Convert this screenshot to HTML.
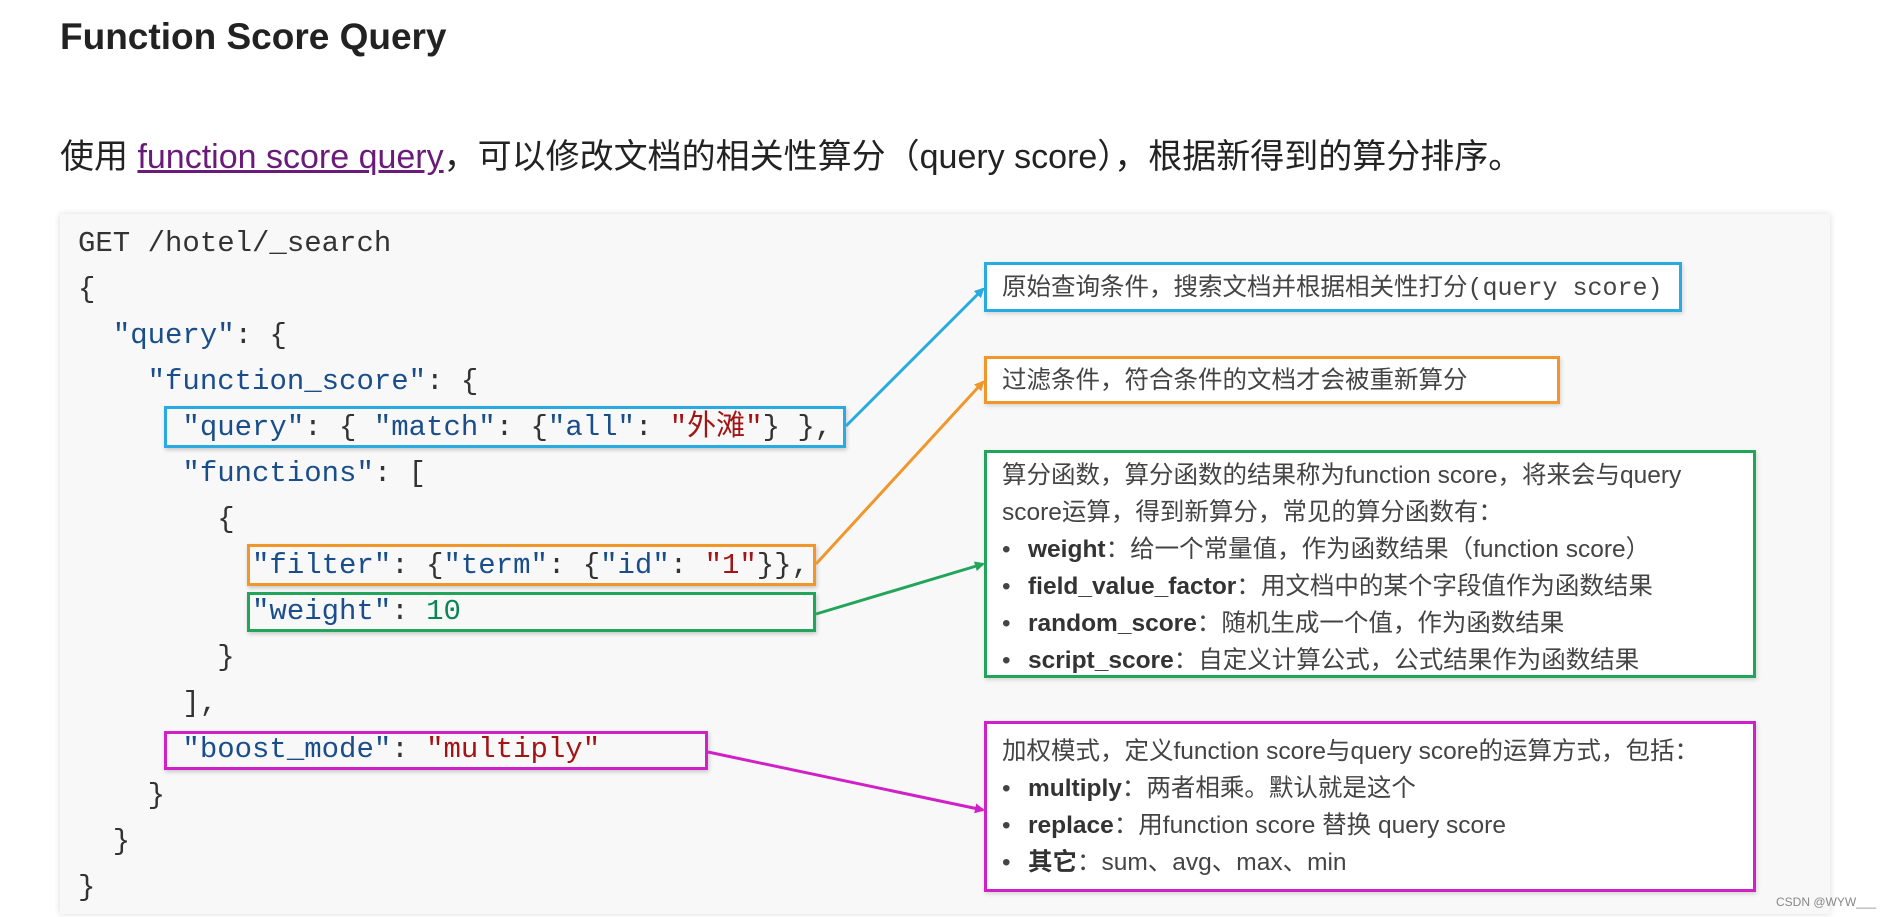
<!DOCTYPE html>
<html><head><meta charset="utf-8"><style>
body{margin:0;width:1881px;height:917px;background:#fff;position:relative;overflow:hidden;font-family:"Liberation Sans","Noto Sans CJK SC",sans-serif;color:#333}
.a{position:absolute;white-space:nowrap}
.code{position:absolute;left:60px;top:214px;width:1770px;height:700px;background:#f8f8f8;box-shadow:0 0 6px rgba(0,0,0,.15)}
.ln{position:absolute;font-family:"Liberation Mono","Noto Sans CJK SC",monospace;font-size:29px;line-height:46px;color:#333;white-space:pre}
.k{color:#1a4e8a}.s{color:#a31515}.n{color:#098658}
.bx{position:absolute;box-sizing:border-box;border:3px solid;box-shadow:1px 2px 4px rgba(0,0,0,.2)}
.rb{position:absolute;box-sizing:border-box;border:3px solid;background:#fff;font-size:24.5px;color:#444;padding:0 0 0 15px;box-shadow:1px 2px 4px rgba(0,0,0,.15)}
.rb div{height:37px;line-height:37px;white-space:nowrap}
.rb b{color:#333}
.bul{display:inline-block;width:26px}
</style></head><body>
<div class="a" style="left:60px;top:16px;font-size:37px;font-weight:bold;color:#222">Function Score Query</div>
<div class="a" style="left:60px;top:129px;font-size:34px;color:#222">使用 <span style="color:#6a1b7a;text-decoration:underline">function score query</span>，可以修改文档的相关性算分（query score），根据新得到的算分排序。</div>
<div class="code"></div>
<div class="ln" style="left:78px;top:221px">GET /hotel/_search</div>
<div class="ln" style="left:78px;top:267px">{</div>
<div class="ln" style="left:78px;top:313px">  <span class="k">"query"</span>: {</div>
<div class="ln" style="left:78px;top:359px">    <span class="k">"function_score"</span>: {</div>
<div class="ln" style="left:78px;top:405px">      <span class="k">"query"</span>: { <span class="k">"match"</span>: {<span class="k">"all"</span>: <span class="s">"外滩"</span>} },</div>
<div class="ln" style="left:78px;top:451px">      <span class="k">"functions"</span>: [</div>
<div class="ln" style="left:78px;top:497px">        {</div>
<div class="ln" style="left:78px;top:543px">          <span class="k">"filter"</span>: {<span class="k">"term"</span>: {<span class="k">"id"</span>: <span class="s">"1"</span>}},</div>
<div class="ln" style="left:78px;top:589px">          <span class="k">"weight"</span>: <span class="n">10</span></div>
<div class="ln" style="left:78px;top:635px">        }</div>
<div class="ln" style="left:78px;top:681px">      ],</div>
<div class="ln" style="left:78px;top:727px">      <span class="k">"boost_mode"</span>: <span class="s">"multiply"</span></div>
<div class="ln" style="left:78px;top:773px">    }</div>
<div class="ln" style="left:78px;top:819px">  }</div>
<div class="ln" style="left:78px;top:865px">}</div>

<div class="bx" style="left:164px;top:406px;width:682px;height:42px;border-color:#29aae1"></div>
<div class="bx" style="left:247px;top:544px;width:569px;height:42px;border-color:#f0962a"></div>
<div class="bx" style="left:247px;top:592px;width:569px;height:40px;border-color:#22a55a"></div>
<div class="bx" style="left:164px;top:731px;width:544px;height:39px;border-color:#d020c8"></div>

<svg class="a" style="left:0;top:0" width="1881" height="917">
<defs>
<marker id="mb" markerWidth="10" markerHeight="10" refX="8" refY="5" orient="auto" markerUnits="userSpaceOnUse"><path d="M0,0L10,5L0,10z" fill="#29aae1"/></marker>
<marker id="mo" markerWidth="10" markerHeight="10" refX="8" refY="5" orient="auto" markerUnits="userSpaceOnUse"><path d="M0,0L10,5L0,10z" fill="#f0962a"/></marker>
<marker id="mg" markerWidth="10" markerHeight="10" refX="8" refY="5" orient="auto" markerUnits="userSpaceOnUse"><path d="M0,0L10,5L0,10z" fill="#22a55a"/></marker>
<marker id="mm" markerWidth="10" markerHeight="10" refX="8" refY="5" orient="auto" markerUnits="userSpaceOnUse"><path d="M0,0L10,5L0,10z" fill="#d020c8"/></marker>
</defs>
<line x1="846" y1="426" x2="983" y2="289" stroke="#29aae1" stroke-width="3" marker-end="url(#mb)"/>
<line x1="816" y1="564" x2="983" y2="382" stroke="#f0962a" stroke-width="3" marker-end="url(#mo)"/>
<line x1="816" y1="614" x2="983" y2="564" stroke="#22a55a" stroke-width="3" marker-end="url(#mg)"/>
<line x1="708" y1="752" x2="983" y2="810" stroke="#d020c8" stroke-width="3" marker-end="url(#mm)"/>
</svg>

<div class="rb" style="left:984px;top:262px;width:698px;height:50px;border-color:#29aae1;padding-top:4px"><div>原始查询条件，搜索文档并根据相关性打分<span style="font-family:'Liberation Mono',monospace;font-size:25px">(query score)</span></div></div>
<div class="rb" style="left:984px;top:356px;width:576px;height:48px;border-color:#f0962a;padding-top:3px"><div>过滤条件，符合条件的文档才会被重新算分</div></div>
<div class="rb" style="left:984px;top:450px;width:772px;height:228px;border-color:#22a55a;padding-top:4px">
<div>算分函数，算分函数的结果称为function score，将来会与query</div>
<div>score运算，得到新算分，常见的算分函数有：</div>
<div><span class="bul">•</span><b>weight</b>：给一个常量值，作为函数结果（function score）</div>
<div><span class="bul">•</span><b>field_value_factor</b>：用文档中的某个字段值作为函数结果</div>
<div><span class="bul">•</span><b>random_score</b>：随机生成一个值，作为函数结果</div>
<div><span class="bul">•</span><b>script_score</b>：自定义计算公式，公式结果作为函数结果</div>
</div>
<div class="rb" style="left:984px;top:721px;width:772px;height:171px;border-color:#d020c8;padding-top:9px">
<div>加权模式，定义function score与query score的运算方式，包括：</div>
<div><span class="bul">•</span><b>multiply</b>：两者相乘。默认就是这个</div>
<div><span class="bul">•</span><b>replace</b>：用function score 替换 query score</div>
<div><span class="bul">•</span><b>其它</b>：sum、avg、max、min</div>
</div>
<div class="a" style="left:1776px;top:895px;font-size:12px;color:#888">CSDN @WYW___</div>
</body></html>
